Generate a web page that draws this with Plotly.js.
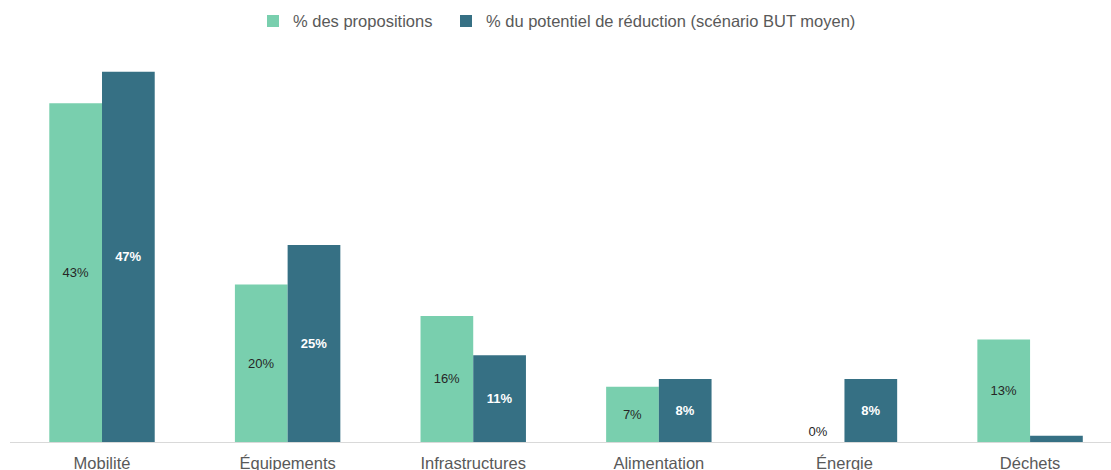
<!DOCTYPE html>
<html>
<head>
<meta charset="utf-8">
<script src="https://cdn.plot.ly/plotly-3.0.1.min.js"></script>
<style>html,body{margin:0;padding:0;background:#fff;}#chart{width:1111px;height:470px;}</style>
</head>
<body>
<div id="chart"></div>
<script>
const categories = ["Mobilité", "Équipements", "Infrastructures", "Alimentation", "Énergie", "Déchets"];
const propositions = [43, 20, 16, 7, 0, 13];
const potentiel = [47, 25, 11, 8, 8, 0.8];
const labelsPropositions = ["43%", "20%", "16%", "7%", "0%", "13%"];
const labelsPotentiel = ["47%", "25%", "11%", "8%", "8%", ""];

const xIdx = categories.map((c, i) => i);
const FONT = "Liberation Sans, Arial, Helvetica, sans-serif";

const trace1 = {
  type: "bar",
  name: "% des propositions",
  legend: "legend",
  x: xIdx,
  y: propositions,
  text: labelsPropositions,
  textposition: propositions.map(v => v === 0 ? "outside" : "inside"),
  insidetextanchor: "middle",
  textangle: 0,
  textfont: {family: FONT, size: 13, color: "#262626"},
  outsidetextfont: {family: FONT, size: 13, color: "#262626"},
  marker: {color: "#79CFAE"},
  cliponaxis: false,
  hoverinfo: "none"
};
const trace2 = {
  type: "bar",
  name: "% du potentiel de réduction (scénario BUT moyen)",
  legend: "legend2",
  x: xIdx,
  y: potentiel,
  text: labelsPotentiel,
  textposition: "inside",
  insidetextanchor: "middle",
  textangle: 0,
  textfont: {family: FONT, size: 13, color: "#ffffff", weight: "bold"},
  marker: {color: "#367084"},
  hoverinfo: "none"
};

const legendCommon = {
  orientation: "h",
  xref: "container",
  yref: "container",
  y: 0.955,
  yanchor: "middle",
  xanchor: "left",
  font: {family: FONT, size: 16.5, color: "#595959"},
  bgcolor: "rgba(0,0,0,0)"
};

const layout = {
  width: 1111,
  height: 470,
  margin: {l: 10, r: 0, t: 48, b: 28, autoexpand: false},
  paper_bgcolor: "#ffffff",
  plot_bgcolor: "#ffffff",
  barmode: "group",
  bargap: 0.432,
  bargroupgap: 0,
  font: {family: FONT, color: "#595959"},
  xaxis: {
    tickmode: "array",
    tickvals: xIdx,
    ticktext: categories,
    range: [-0.4957, 5.436],
    showgrid: false,
    zeroline: false,
    showline: false,
    ticks: "",
    ticklabelstandoff: 9,
    automargin: false,
    tickfont: {family: FONT, size: 16.5, color: "#595959"},
    fixedrange: true
  },
  yaxis: {
    range: [0, 50],
    showgrid: false,
    zeroline: true,
    zerolinecolor: "#d9d9d9",
    zerolinewidth: 1,
    showticklabels: false,
    ticks: "",
    automargin: false,
    fixedrange: true
  },
  showlegend: true,
  legend: Object.assign({}, legendCommon, {x: 253 / 1111}),
  legend2: Object.assign({}, legendCommon, {x: 446 / 1111})
};

Plotly.newPlot("chart", [trace1, trace2], layout, {displayModeBar: false, staticPlot: true});
</script>
</body>
</html>
